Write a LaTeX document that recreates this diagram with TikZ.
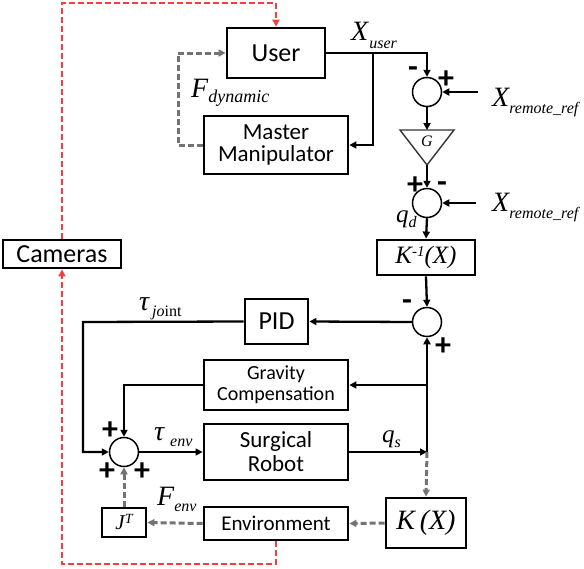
\documentclass[tikz,border=0pt]{standalone}
\usepackage{fontspec}
\setmainfont{Carlito}
\newfontfamily\tms{Liberation Serif}
\usetikzlibrary{arrows.meta}
\newcommand\fs[1]{\fontsize{#1}{#1}\selectfont}
\definecolor{dgray}{RGB}{115,115,115}
\definecolor{lred}{RGB}{250,60,60}
\tikzset{
  box/.style={draw, line width=2.8pt, inner sep=0pt, align=center},
  sumc/.style={draw, circle, line width=1.5pt, minimum size=29pt, inner sep=0pt},
  sig/.style={line width=2.3pt, -{Triangle[length=7pt,width=7pt]}},
  sigthin/.style={line width=1.5pt, -{Triangle[length=7pt,width=7pt]}},
  gdash/.style={draw=dgray, line width=3pt, dash pattern=on 6pt off 3pt, -{Triangle[length=7pt,width=7pt]}},
  rdash/.style={draw=lred, line width=1.9pt, dash pattern=on 6pt off 3pt},
  sgn/.style={font=\fs{32}\bfseries, inner sep=0pt},
  lab/.style={inner sep=0pt, anchor=base west},
}
\begin{document}
\begin{tikzpicture}[x=1pt,y=-1pt]
\useasboundingbox (0,0) rectangle (584,568);
% boxes
\node[box, minimum width=98pt, minimum height=50pt, font=\fs{26}] (user) at (276,53) {User};
\node[box, minimum width=144pt, minimum height=58pt, font=\fs{23}] (master) at (276,145) {Master\\[-1pt]Manipulator};
\node[box, minimum width=118pt, minimum height=28pt, font=\fs{26}] (cam) at (62,254) {Cameras};
\node[box, minimum width=98pt, minimum height=35pt, font=\tms\itshape\fs{25}] (kinv) at (426,257.5) {K\raisebox{7pt}{\fs{15}-1}(X)};
\node[box, minimum width=63pt, minimum height=45pt, font=\fs{26}] (pid) at (276.5,321.5) {PID};
\node[box, minimum width=144pt, minimum height=50pt, font=\fs{20}] (grav) at (276,385) {Gravity\\[1pt]Compensation};
\node[box, minimum width=144pt, minimum height=56pt, font=\fs{23}] (robot) at (276,452) {Surgical\\[1pt]Robot};
\node[box, minimum width=144pt, minimum height=33pt, font=\fs{21}] (env) at (276,523.5) {Environment};
\node[box, minimum width=44pt, minimum height=29pt, font=\tms\itshape\fs{21}] (jt) at (124,522.5) {J\raisebox{6pt}{\fs{14}T}};
\node[box, minimum width=80pt, minimum height=50pt, font=\tms\itshape\fs{28}] (kx) at (426,523) {K\,(X)};
% summing junctions
\node[sumc] (s1) at (427,92) {};
\node[sumc] (s2) at (427,203) {};
\node[sumc] (s3) at (427,322) {};
\node[sumc] (s4) at (124,452) {};
% gain triangle
\coordinate (gtop) at (427,130);
\coordinate (gbot) at (427,165);
\draw[line width=1.4pt, draw=black!80] (400,130) -- (454,130) -- (gbot) -- cycle;
\node[font=\tms\itshape\fs{16}, inner sep=0pt] (g) at (427,141) {G};
% coordinates
\coordinate (br1) at (373,53);
\coordinate (xr1) at (478,92);
\coordinate (xr2) at (476,203);
\coordinate (qs) at (427,452);
\coordinate (gb) at (427,385);
\coordinate (pl) at (83,322);
\coordinate (fl) at (178,145);
\coordinate (fu) at (178,53);
\coordinate (rb1) at (276,564);
\coordinate (rb2) at (62,564);
\coordinate (rt1) at (62,3);
\coordinate (rt2) at (276,3);
% signal lines
\draw[sig] (user.east) -| (s1.north);
\draw[sig] (br1) |- (master.east);
\draw[sig] (xr1) -- (s1.east);
\draw[sig] (s1.south) -- (gtop);
\draw[sig] (gbot) -- (s2.north);
\draw[sig] (xr2) -- (s2.east);
\draw[sig] (s2.south) -- (kinv.north);
\draw[sig] (kinv.south) -- (s3.north);
\draw[sig] (s3.west) -- (pid.east);
\draw[sig] (pid.west) -- (pl) |- (s4.west);
\draw[sig] (grav.west) -| (s4.north);
\draw[sigthin] (robot.east) -- (qs);
\draw[sig] (qs) -- (s3.south);
\draw[sig] (gb) -- (grav.east);
\draw[sigthin] (s4.east) -- (robot.west);
% dashed gray
\draw[gdash] (qs) -- (kx.north);
\draw[gdash] (kx.west) -- (env.east);
\draw[gdash] (env.west) -- (jt.east);
\draw[gdash] (jt.north) -- (s4.south);
\draw[gdash] (master.west) -- (fl) -- (fu) -- (user.west);
% red dashed
\draw[rdash, -{Triangle[length=7pt,width=7pt]}] (env.south) -- (rb1) -- (rb2) -- (cam.south);
\draw[rdash, -{Triangle[length=7pt,width=7pt]}] (cam.north) -- (rt1) -- (rt2) -- (user.north);
% signs
\node[sgn] (m1) at (413,72) {-};
\node[sgn] (p1) at (446,80) {+};
\node[sgn] (p2) at (415,186) {+};
\node[sgn] (m2) at (442,187) {-};
\node[sgn] (m3) at (407,305) {-};
\node[sgn] (p3) at (443,347) {+};
\node[sgn] (p4) at (110,431) {+};
\node[sgn] (p5) at (107,472) {+};
\node[sgn] (p6) at (142,472) {+};
% labels
\node[lab] (lxu) at (351,40) {\tms\itshape\fs{28}X\hspace{1pt}\raisebox{-8pt}{\fs{16}user}};
\node[lab] (lxr1) at (492,106) {\tms\itshape\fs{28}X\raisebox{-7pt}{\fs{16}remote\_ref}};
\node[lab] (lxr2) at (492,211) {\tms\itshape\fs{28}X\raisebox{-7pt}{\fs{16}remote\_ref}};
\node[lab] (lfd) at (191,97) {\tms\itshape\fs{28}F\raisebox{-5pt}{\fs{18}dynamic}};
\node[lab] (lqd) at (396,222) {\tms\itshape\fs{25}q\raisebox{-5pt}{\fs{16}d}};
\node[lab] (ltj) at (139,310) {\tms\itshape\fs{28}τ\hspace{3pt}\raisebox{-6pt}{\fs{16}jo\upshape int}};
\node[lab] (lte) at (154,440) {\tms\itshape\fs{28}τ\hspace{6pt}\raisebox{-6pt}{\fs{16}env}};
\node[lab] (lfe) at (157,505) {\tms\itshape\fs{28}F\raisebox{-6pt}{\fs{16}env}};
\node[lab] (lqs) at (382,442) {\tms\itshape\fs{25}q\raisebox{-5pt}{\fs{16}s}};
\end{tikzpicture}
\end{document}
